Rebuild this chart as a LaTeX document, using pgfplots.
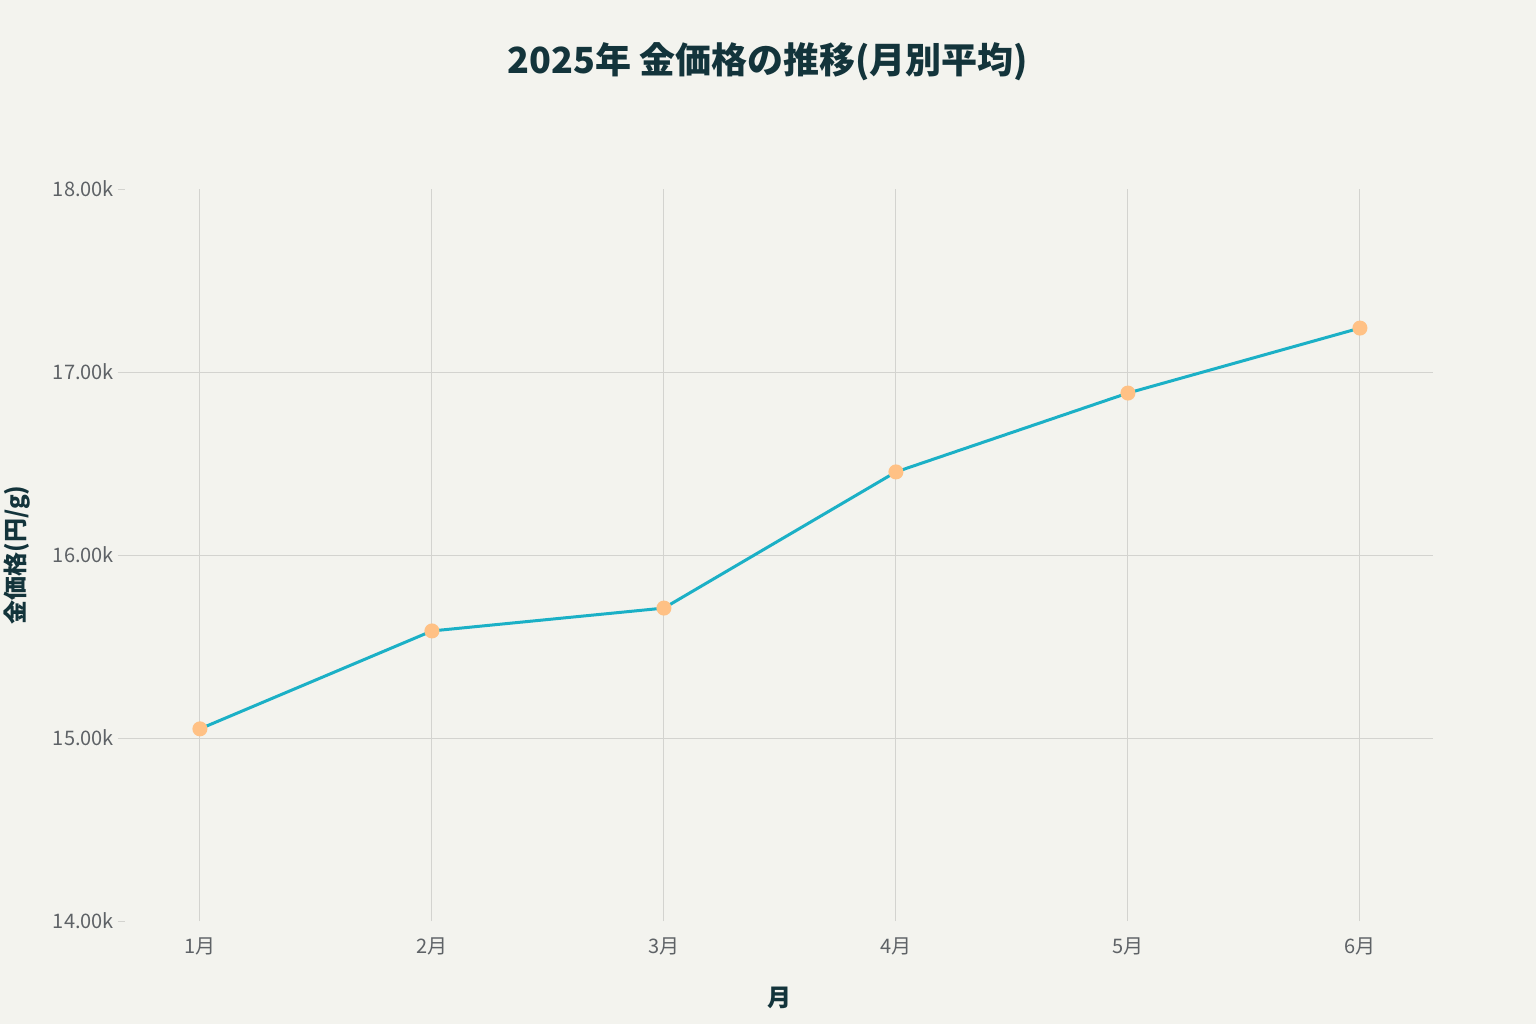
\documentclass[border=0pt]{standalone}
\usepackage{fontspec}
\setmainfont{Noto Sans CJK JP}
\usepackage{pgfplots}
\pgfplotsset{compat=1.18}
\definecolor{bg}{HTML}{F3F3EE}
\definecolor{linec}{HTML}{1BB0C6}
\definecolor{markc}{HTML}{FFC185}
\definecolor{gridc}{HTML}{D3D3CF}
\definecolor{tickc}{HTML}{5E6266}
\definecolor{titlec}{HTML}{13343B}
\begin{document}
\begin{tikzpicture}
\path[use as bounding box, fill=bg] (0,0) rectangle (768pt,512pt);
\begin{axis}[
  at={(62.5pt,51.5pt)}, anchor=south west,
  width=654pt, height=366pt, scale only axis,
  xmin=-0.323, xmax=5.315,
  ymin=14000, ymax=18000,
  scaled y ticks=false,
  xtick={0,1,2,3,4,5},
  xticklabels={1月,2月,3月,4月,5月,6月},
  ytick={14000,15000,16000,17000,18000},
  yticklabels={14.00k,15.00k,16.00k,17.00k,18.00k},
  extra y ticks={15000,16000,17000},
  extra y tick labels={},
  extra y tick style={ymajorgrids=true, major tick length=0pt},
  axis line style={draw=none},
  xmajorgrids=true, ymajorgrids=false,
  major grid style={gridc, line width=0.5pt},
  tick style={gridc, line width=0.5pt},
  ytick align=outside, major tick length=3.5pt,
  x tick style={draw=none},
  ytick pos=left, xtick pos=bottom,
  tick label style={font=\fontsize{10}{12}\selectfont, text=tickc},
  xticklabel style={yshift=-5pt},
  yticklabel style={xshift=1.5pt},
  clip=false,
]
\addplot[linec, line width=1.5pt, mark=*, mark size=3pt,
  mark options={draw=markc, fill=markc}]
  coordinates {(0,15050) (1,15585) (2,15710) (3,16454) (4,16885) (5,17240)};
\end{axis}
\node[font=\fontsize{18}{22}\selectfont\bfseries, text=titlec] at (384pt,481pt) {2025年 金価格の推移(月別平均)};
\node[font=\fontsize{12}{14}\selectfont\bfseries, text=titlec] at (389.5pt,13pt) {月};
\node[font=\fontsize{12}{14}\selectfont\bfseries, text=titlec, rotate=90] at (8.5pt,234.5pt) {金価格(円/g)};
\end{tikzpicture}
\end{document}
